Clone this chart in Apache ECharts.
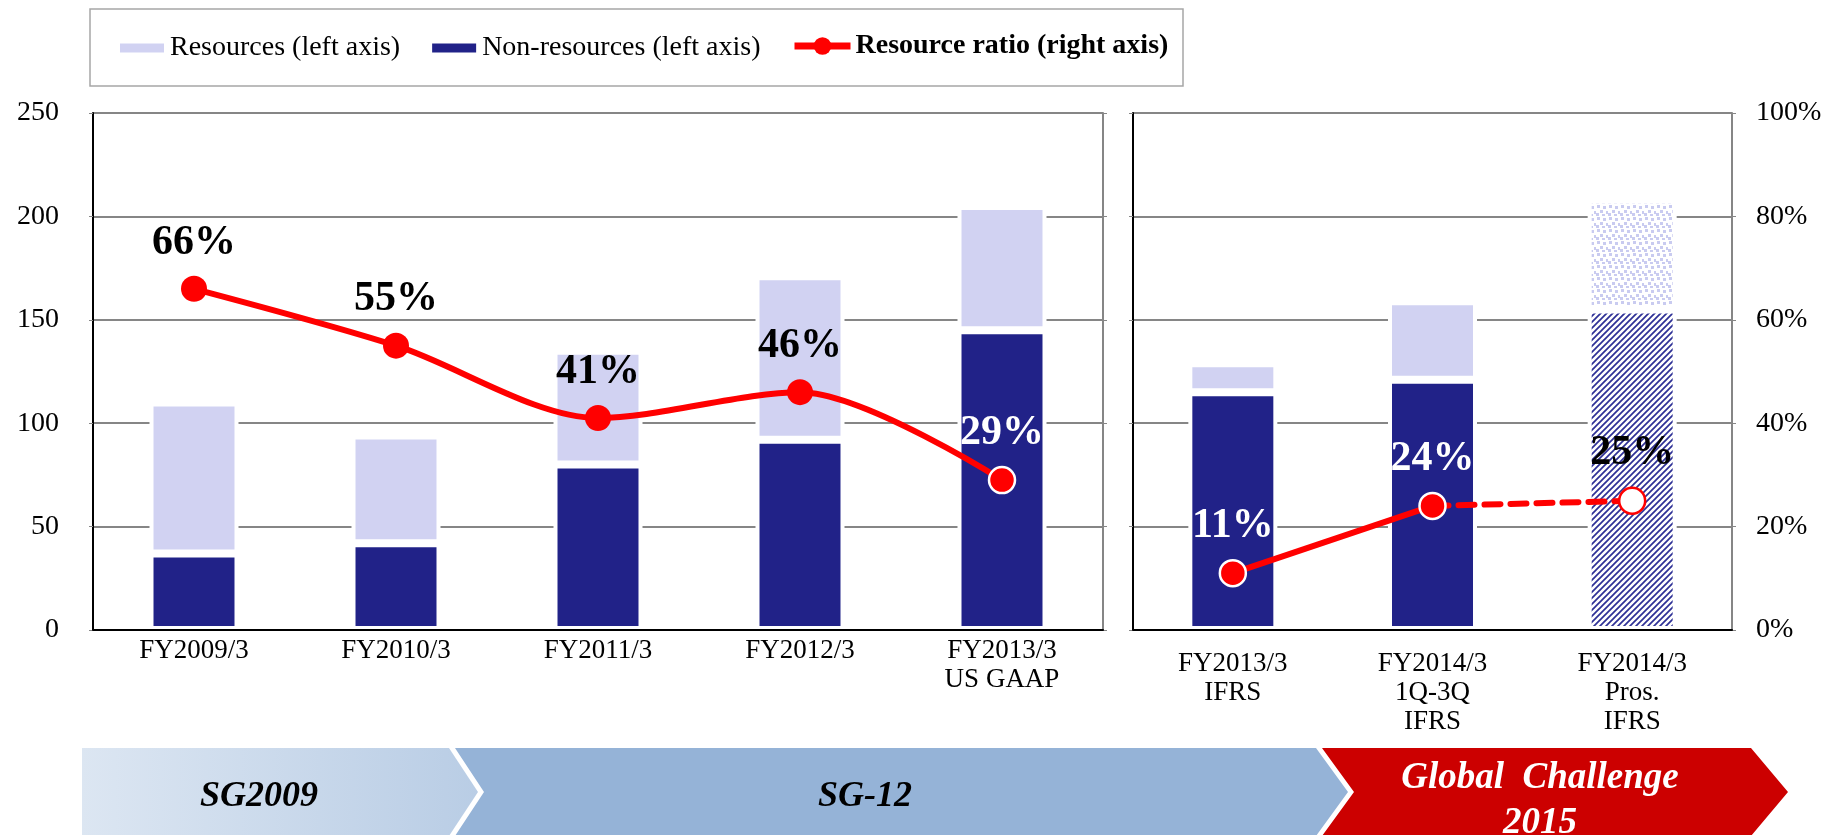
<!DOCTYPE html>
<html>
<head>
<meta charset="utf-8">
<script src="https://cdn.jsdelivr.net/npm/echarts@6/dist/echarts.min.js"></script>
<style>
html, body { margin: 0; padding: 0; background: #fff; }
#chart { width: 1827px; height: 835px; }
</style>
</head>
<body>
<div id="chart"></div>
<script>
// values (left axis: bn yen, right axis: %)
const catsSG = ['FY2009/3', 'FY2010/3', 'FY2011/3', 'FY2012/3', 'FY2013/3\nUS GAAP'];
const catsGC = ['FY2013/3\nIFRS', 'FY2014/3\n1Q-3Q\nIFRS', 'FY2014/3\nPros.\nIFRS'];
const nonResSG = [37, 42, 80, 92, 145];
const resSG = [73, 52, 55, 79, 60];
const ratioSG = [66, 55, 41, 46, 29];
const nonResGC = [115, 121, 155];
const resGC = [14, 38, 53];
const ratioGC = [11, 24, 25];
const leftTicks = [0, 50, 100, 150, 200, 250];
const rightTicks = [0, 20, 40, 60, 80, 100];
const prospectIdx = 2; // last right-hand bar is the forecast

const FONT = 'Liberation Serif';
const NAVY = '#212288';
const LIGHT = '#D1D2F2';
const RED = '#FF0000';
const GRIDC = '#868686';

// hatch + dot fills for the forecast bar
function hatch() {
    const c = document.createElement('canvas');
    c.width = 6; c.height = 6;
    const g = c.getContext('2d');
    g.fillStyle = '#fff'; g.fillRect(0, 0, 6, 6);
    g.strokeStyle = '#2E3096'; g.lineWidth = 1.7;
    g.beginPath();
    g.moveTo(-1, 7); g.lineTo(7, -1);
    g.moveTo(-1, 1); g.lineTo(1, -1);
    g.moveTo(5, 7); g.lineTo(7, 5);
    g.stroke();
    return c;
}
function dots() {
    const c = document.createElement('canvas');
    c.width = 12; c.height = 12;
    const g = c.getContext('2d');
    g.fillStyle = '#fff'; g.fillRect(0, 0, 12, 12);
    g.fillStyle = '#C9CBF0';
    [[1, 1], [7, 2], [4, 6], [10, 7], [0, 9], [6, 10]].forEach(p => g.fillRect(p[0], p[1], 3, 3));
    return c;
}
const hatchFill = { image: hatch(), repeat: 'repeat' };
const dotFill = { image: dots(), repeat: 'repeat' };

const chart = echarts.init(document.getElementById('chart'));

const barStyle = { borderColor: '#fff', borderWidth: 4 };
const pctLabel = {
    show: true, position: 'top', distance: 12,
    formatter: '{c}%', fontFamily: FONT, fontSize: 42, fontWeight: 'bold', color: '#000'
};

function catAxis(grid, data, margin) {
    return {
        type: 'category', gridIndex: grid, data: data, z: 5,
        axisLine: { lineStyle: { color: '#000', width: 2 } },
        axisTick: { inside: true, length: 8, lineStyle: { color: '#000' } },
        axisLabel: { fontFamily: FONT, fontSize: 27, color: '#000', lineHeight: 29, margin: margin, interval: 0 }
    };
}

chart.setOption({
    animation: false,
    backgroundColor: '#fff',
    grid: [
        { left: 93, top: 113, width: 1010, height: 517 },
        { left: 1133, top: 113, width: 599, height: 517 }
    ],
    legend: [
        {
            data: ['Resources (left axis)', 'Non-resources (left axis)'],
            left: 118, top: 34, padding: 0, itemWidth: 46, itemHeight: 11, itemGap: 30,
            icon: 'rect', selectedMode: false,
            textStyle: { fontFamily: FONT, fontSize: 28, color: '#000' }
        },
        {
            data: ['Resource ratio (right axis)'],
            left: 791, top: 32, padding: 0, itemWidth: 56, itemHeight: 22,
            selectedMode: false,
            lineStyle: { width: 7, color: RED },
            itemStyle: { color: RED, borderWidth: 0 },
            textStyle: { fontFamily: FONT, fontSize: 28, fontWeight: 'bold', color: '#000' }
        }
    ],
    xAxis: [catAxis(0, catsSG, 6), catAxis(1, catsGC, 19)],
    yAxis: [
        {
            type: 'value', gridIndex: 0, min: 0, max: 250, interval: 50,
            axisLine: { show: true, lineStyle: { color: '#000', width: 2 } },
            axisTick: { show: true, length: 4, lineStyle: { color: GRIDC } },
            splitLine: { lineStyle: { color: GRIDC, width: 2 } },
            axisLabel: {
                fontFamily: FONT, fontSize: 28, color: '#000', margin: 34,
                formatter: v => leftTicks.includes(v) ? String(v) : ''
            }
        },
        {
            type: 'value', gridIndex: 0, position: 'right', min: 0, max: 100, interval: 20,
            axisLine: { show: true, lineStyle: { color: GRIDC, width: 2 } },
            axisTick: { show: true, length: 4, lineStyle: { color: GRIDC } },
            splitLine: { show: false }, axisLabel: { show: false }
        },
        {
            type: 'value', gridIndex: 1, min: 0, max: 250, interval: 50,
            axisLine: { show: true, lineStyle: { color: '#000', width: 2 } },
            axisTick: { show: true, length: 4, lineStyle: { color: GRIDC } },
            splitLine: { lineStyle: { color: GRIDC, width: 2 } },
            axisLabel: { show: false }
        },
        {
            type: 'value', gridIndex: 1, position: 'right', min: 0, max: 100, interval: 20,
            axisLine: { show: true, lineStyle: { color: GRIDC, width: 2 } },
            axisTick: { show: true, length: 4, lineStyle: { color: GRIDC } },
            splitLine: { show: false },
            axisLabel: {
                fontFamily: FONT, fontSize: 28, color: '#000', margin: 24,
                formatter: v => rightTicks.includes(v) ? v + '%' : ''
            }
        }
    ],
    series: [
        {
            name: 'Non-resources (left axis)', type: 'bar', stack: 'sg', barWidth: 89,
            xAxisIndex: 0, yAxisIndex: 0, data: nonResSG,
            itemStyle: Object.assign({ color: NAVY }, barStyle)
        },
        {
            name: 'Resources (left axis)', type: 'bar', stack: 'sg', barWidth: 89,
            xAxisIndex: 0, yAxisIndex: 0, data: resSG,
            itemStyle: Object.assign({ color: LIGHT }, barStyle)
        },
        {
            name: 'Non-resources (left axis)', type: 'bar', stack: 'gc', barWidth: 89,
            xAxisIndex: 1, yAxisIndex: 2,
            data: nonResGC.map((v, i) => i === prospectIdx ? { value: v, itemStyle: { color: hatchFill } } : v),
            itemStyle: Object.assign({ color: NAVY }, barStyle)
        },
        {
            name: 'Resources (left axis)', type: 'bar', stack: 'gc', barWidth: 89,
            xAxisIndex: 1, yAxisIndex: 2,
            data: resGC.map((v, i) => i === prospectIdx ? { value: v, itemStyle: { color: dotFill } } : v),
            itemStyle: Object.assign({ color: LIGHT }, barStyle)
        },
        {
            name: 'Resource ratio (right axis)', type: 'line', smooth: 0.3,
            xAxisIndex: 0, yAxisIndex: 1,
            symbol: 'circle', symbolSize: 26,
            lineStyle: { color: RED, width: 6 },
            itemStyle: { color: RED },
            label: pctLabel,
            data: ratioSG.map((v, i) => i === ratioSG.length - 1
                ? { value: v, itemStyle: { borderColor: '#fff', borderWidth: 2.5 }, label: { color: '#fff' } }
                : v)
        },
        {
            name: 'Resource ratio (right axis)', type: 'line',
            xAxisIndex: 1, yAxisIndex: 3,
            symbol: 'circle', symbolSize: 26,
            lineStyle: { color: RED, width: 6, type: [16, 10], cap: 'round' },
            itemStyle: { color: '#fff', borderColor: RED, borderWidth: 2.5 },
            label: pctLabel,
            data: ratioGC.map((v, i) => i < prospectIdx - 1 ? '-'
                : i === prospectIdx - 1 ? { value: v, symbol: 'none', label: { show: false } } : v)
        },
        {
            name: 'Resource ratio (right axis)', type: 'line',
            xAxisIndex: 1, yAxisIndex: 3,
            symbol: 'circle', symbolSize: 26,
            lineStyle: { color: RED, width: 6 },
            itemStyle: { color: RED, borderColor: '#fff', borderWidth: 2.5 },
            label: Object.assign({}, pctLabel, { color: '#fff' }),
            data: ratioGC.map((v, i) => i < prospectIdx ? v : '-')
        }
    ],
    graphic: [
        {
            type: 'rect', z: -1,
            shape: { x: 90, y: 9, width: 1093, height: 77 },
            style: { fill: 'none', stroke: '#A6A6A6', lineWidth: 1.5 }
        },
        {
            type: 'polygon',
            shape: { points: [[82, 748], [449, 748], [478, 792], [449, 836], [82, 836]] },
            style: {
                fill: new echarts.graphic.LinearGradient(0, 0, 1, 0, [
                    { offset: 0, color: '#DCE6F2' }, { offset: 1, color: '#B9CDE5' }
                ])
            }
        },
        {
            type: 'polygon',
            shape: { points: [[455, 748], [1316, 748], [1348, 792], [1316, 836], [455, 836], [484, 792]] },
            style: { fill: '#95B3D7' }
        },
        {
            type: 'polygon',
            shape: { points: [[1322, 748], [1751, 748], [1788, 792], [1751, 836], [1322, 836], [1354, 792]] },
            style: { fill: '#CC0000' }
        },
        {
            type: 'text', x: 259, y: 797,
            style: { text: 'SG2009', font: 'italic bold 36px "Liberation Serif"', fill: '#000', align: 'center', verticalAlign: 'middle' }
        },
        {
            type: 'text', x: 865, y: 797,
            style: { text: 'SG-12', font: 'italic bold 36px "Liberation Serif"', fill: '#000', align: 'center', verticalAlign: 'middle' }
        },
        {
            type: 'text', x: 1540, y: 778,
            style: { text: 'Global  Challenge', font: 'italic bold 37px "Liberation Serif"', fill: '#fff', align: 'center', verticalAlign: 'middle' }
        },
        {
            type: 'text', x: 1540, y: 823,
            style: { text: '2015', font: 'italic bold 37px "Liberation Serif"', fill: '#fff', align: 'center', verticalAlign: 'middle' }
        }
    ]
});
</script>
</body>
</html>
